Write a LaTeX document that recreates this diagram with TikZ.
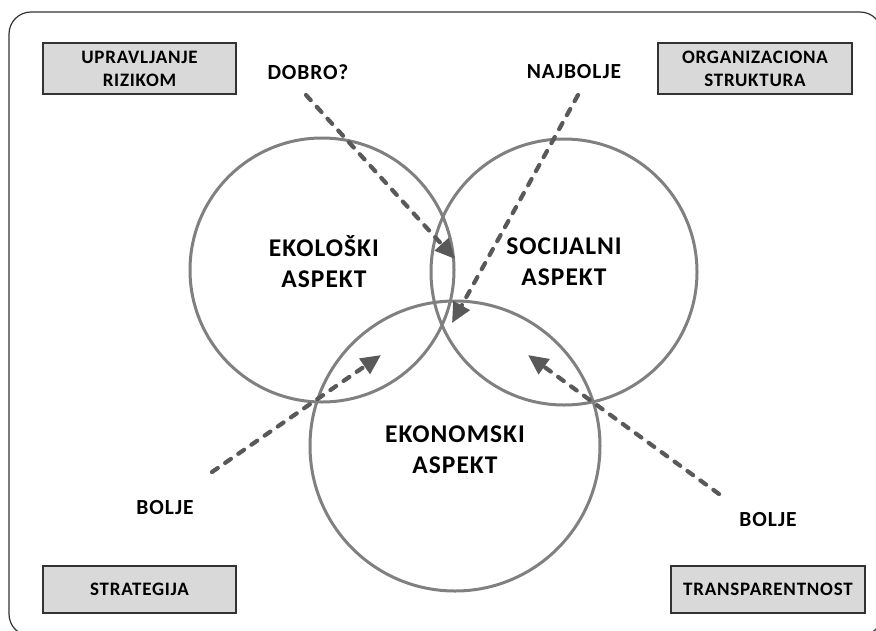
\documentclass[tikz,border=0pt]{standalone}
\usepackage{fontspec}
\setmainfont{Carlito}
\newfontfamily\labelfont[LetterSpace=4]{Carlito}
\usetikzlibrary{arrows.meta}
\definecolor{ringgray}{HTML}{808080}
\definecolor{arrowgray}{HTML}{595959}
\definecolor{boxfill}{HTML}{D9D9D9}
\begin{document}
\begin{tikzpicture}[x=1pt,y=-1pt,
  ring/.style={draw=ringgray,line width=3pt},
  aspect/.style={font=\labelfont\bfseries\fontsize{25.5}{31}\selectfont,align=center,text=black},
  tag/.style={font=\labelfont\bfseries\fontsize{21.5}{26}\selectfont,text=black},
  topic/.style={draw=black!80,line width=1.1pt,fill=boxfill,align=center,
    font=\labelfont\bfseries\fontsize{19}{23}\selectfont,inner sep=0pt},
  hint/.style={draw=arrowgray,line width=4.2pt,line cap=round,
    dash pattern=on 7pt off 9pt,
    -{Triangle[length=20pt,width=18pt,line cap=butt]}}]
\useasboundingbox (0,0) rectangle (876,630);
\begin{scope}
\clip (0,0) rectangle (876,630);
\draw[black!80,line width=1.2pt,rounded corners=22pt] (9,12) rectangle (882,636);
\end{scope}

% three overlapping aspects
\node[ring,circle,minimum size=264pt,inner sep=0pt] (eko) at (322,270) {};
\node[ring,circle,minimum size=266pt,inner sep=0pt] (soc) at (564,272) {};
\node[ring,circle,minimum size=290pt,inner sep=0pt] (ekon) at (455,446) {};
\node[aspect] (ekoT) at (324,262) {EKOLOŠKI\\ASPEKT};
\node[aspect] (socT) at (564,262) {SOCIJALNI\\ASPEKT};
\node[aspect] (ekonT) at (455,450) {EKONOMSKI\\ASPEKT};

% corner topics
\node[topic,minimum width=193pt,minimum height=51pt] (rizik) at (139.5,68.5) {UPRAVLJANJE\\RIZIKOM};
\node[topic,minimum width=194pt,minimum height=51pt] (org) at (755,68.5) {ORGANIZACIONA\\STRUKTURA};
\node[topic,minimum width=193pt,minimum height=47pt] (strat) at (139.5,589.5) {STRATEGIJA};
\node[topic,minimum width=194pt,minimum height=47pt] (trans) at (768,589.5) {TRANSPARENTNOST};

% ratings
\node[tag] (dobro) at (308,72) {DOBRO?};
\node[tag] (najbolje) at (574,72) {NAJBOLJE};
\node[tag] (boljeL) at (165,508) {BOLJE};
\node[tag] (boljeR) at (768,520) {BOLJE};

% arrow ends
\coordinate (d0) at (306,95);
\coordinate (d1) at (455,259);
\coordinate (n0) at (578,95);
\coordinate (n1) at (452,323);
\coordinate (l0) at (212,472);
\coordinate (l1) at (381,355);
\coordinate (r0) at (719,494);
\coordinate (r1) at (528,355);
\draw[hint] (d0) -- (d1);
\draw[hint] (n0) -- (n1);
\draw[hint] (l0) -- (l1);
\draw[hint] (r0) -- (r1);
\end{tikzpicture}
\end{document}
